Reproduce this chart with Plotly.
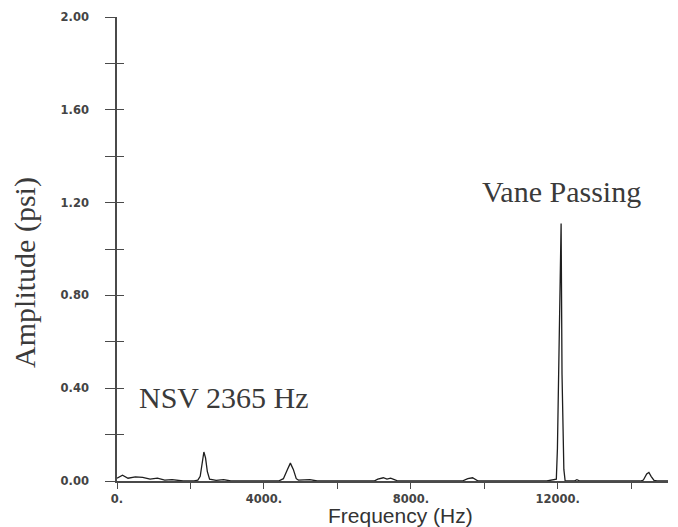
import plotly.graph_objects as go

# Spectrum (Hz, psi)
freq_hz = [0, 150, 300, 500, 700, 900, 1100, 1300, 1500, 1800, 2100, 2200, 2265, 2320, 2365, 2410,
           2460, 2520, 2700, 2900, 3100, 4400, 4530, 4640, 4720, 4800, 4880, 4940, 5050, 5250, 5450,
           7000, 7100, 7250, 7350, 7450, 7550, 7650, 9400, 9450, 9550, 9680, 9780, 9830,
           11700, 11850, 11960, 11990, 12025, 12060, 12090, 12115, 12165, 12200,
           12450, 12520, 12600, 14250, 14330, 14420, 14480, 14540, 14620, 14700, 15000]
amp_psi = [0.012, 0.025, 0.012, 0.018, 0.016, 0.008, 0.012, 0.004, 0.006, 0.0, 0.0, 0.004, 0.02, 0.09, 0.125, 0.10,
           0.04, 0.008, 0.003, 0.006, 0.0, 0.0, 0.01, 0.05, 0.077, 0.05, 0.01, 0.004, 0.004, 0.006, 0.0,
           0.0, 0.008, 0.014, 0.008, 0.012, 0.006, 0.0, 0.0, 0.004, 0.010, 0.014, 0.005, 0.0,
           0.0, 0.005, 0.008, 0.14, 0.55, 0.86, 1.11, 0.46, 0.05, 0.0,
           0.0, 0.006, 0.0, 0.0, 0.004, 0.03, 0.037, 0.02, 0.003, 0.0, 0.0]

x_tickvals = [0, 2000, 4000, 6000, 8000, 10000, 12000, 14000]
x_ticktext = ["0.", "", "4000.", "", "8000.", "", "12000.", ""]
y_tickvals = [0.0, 0.2, 0.4, 0.6, 0.8, 1.0, 1.2, 1.4, 1.6, 1.8, 2.0]
y_ticktext = ["0.00", "", "0.40", "", "0.80", "", "1.20", "", "1.60", "", "2.00"]

x_title = "Frequency (Hz)"
y_title = "Amplitude (psi)"
label_vane = "Vane Passing"
label_nsv = "NSV 2365 Hz"

AX = "#4a4a4a"
TXT = "#3a3a3a"

fig = go.Figure()
fig.add_trace(go.Scatter(x=freq_hz, y=amp_psi, mode="lines",
                         line=dict(color="#1e1e1e", width=1.3), showlegend=False,
                         hoverinfo="skip"))
# helper trace so the overlaid axis (inner tick halves) is drawn
fig.add_trace(go.Scatter(x=[None], y=[None], yaxis="y2", showlegend=False, hoverinfo="skip"))

tickfont = dict(family="DejaVu Sans", size=11.5, color="#444444", weight="bold")

fig.update_layout(
    width=678, height=527,
    margin=dict(l=117, r=10, t=15, b=46),
    paper_bgcolor="white", plot_bgcolor="white",
    xaxis=dict(range=[0, 15000], tickmode="array", tickvals=x_tickvals, ticktext=x_ticktext,
               showgrid=False, zeroline=False, showline=True, linecolor=AX, linewidth=1.5,
               ticks="outside", ticklen=6, tickwidth=1.2, tickcolor=AX, tickfont=tickfont,
               ticklabelstandoff=0),
    yaxis=dict(range=[0, 2.0], tickmode="array", tickvals=y_tickvals, ticktext=y_ticktext,
               showgrid=False, zeroline=False, showline=True, linecolor=AX, linewidth=1.5,
               ticks="outside", ticklen=10, tickwidth=1.2, tickcolor=AX, tickfont=tickfont,
               ticklabelstandoff=14),
    yaxis2=dict(range=[0, 2.0], overlaying="y", side="left", tickmode="array",
                tickvals=y_tickvals, ticktext=[""] * len(y_tickvals),
                showgrid=False, zeroline=False, showline=False,
                ticks="inside", ticklen=7, tickwidth=1.2, tickcolor=AX),
)

serif = dict(family="Liberation Serif", size=30, color=TXT)
fig.add_annotation(x=12090, y=1.25, xref="x", yref="y", text=label_vane, showarrow=False,
                   font=serif, xanchor="center", yanchor="middle")
fig.add_annotation(x=2906, y=0.36, xref="x", yref="y", text=label_nsv, showarrow=False,
                   font=serif, xanchor="center", yanchor="middle")
fig.add_annotation(x=0, y=0.4485, xref="paper", yref="paper", xshift=-92, text=y_title,
                   textangle=-90, showarrow=False, font=serif, xanchor="center", yanchor="middle")
fig.add_annotation(x=7723, y=0, xref="x", yref="paper", yshift=-34, text=x_title, showarrow=False,
                   font=dict(family="Liberation Sans", size=21, color="#333333"),
                   xanchor="center", yanchor="middle", borderpad=0)

fig.write_html("out.html")
